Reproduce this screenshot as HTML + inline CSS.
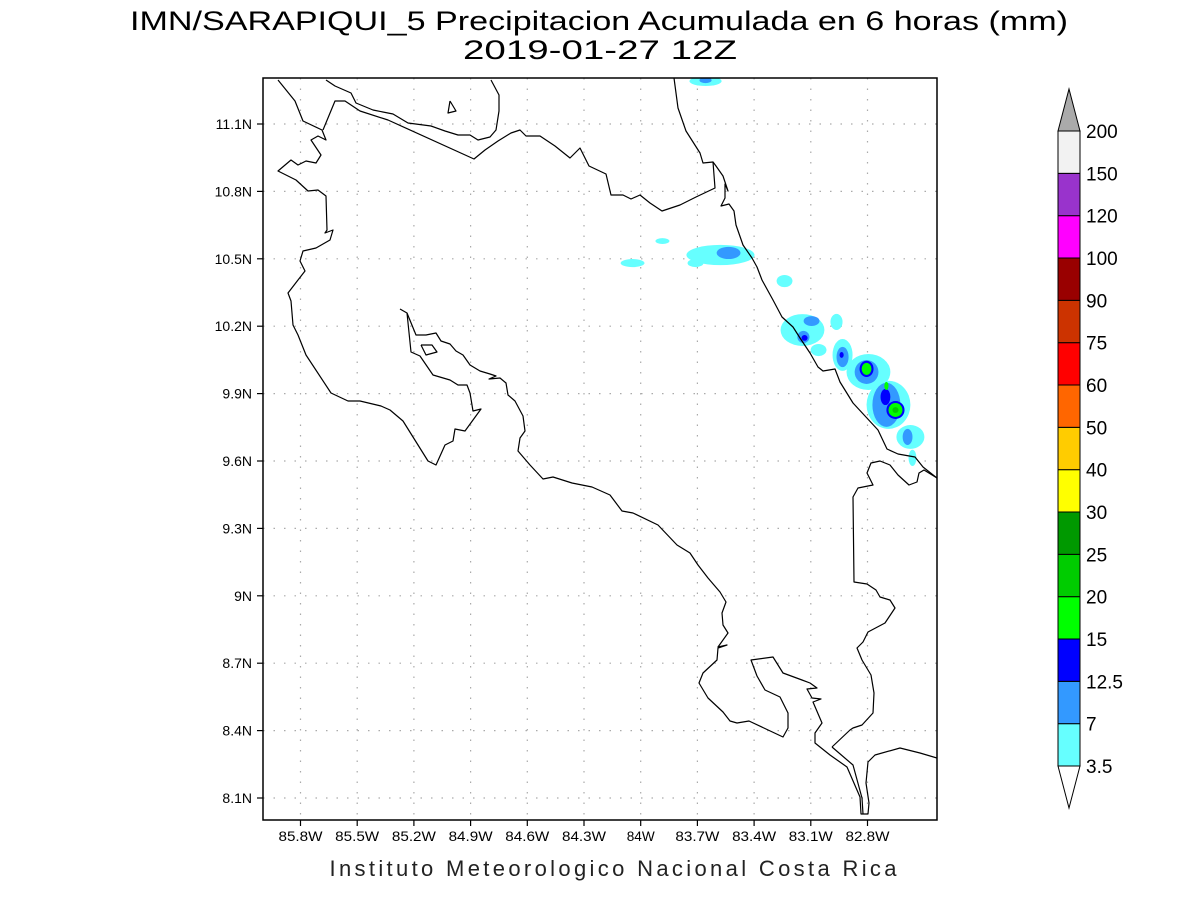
<!DOCTYPE html>
<html><head><meta charset="utf-8"><style>
html,body{margin:0;padding:0;background:#fff}
svg{display:block}
text{font-family:"Liberation Sans",sans-serif}
</style></head><body>
<svg id="chart" width="1200" height="900" viewBox="0 0 1200 900" xmlns="http://www.w3.org/2000/svg">
<text x="599" y="30" font-size="27" text-anchor="middle" textLength="938" lengthAdjust="spacingAndGlyphs">IMN/SARAPIQUI_5 Precipitacion Acumulada en 6 horas (mm)</text>
<text x="600" y="59" font-size="27" text-anchor="middle" textLength="274" lengthAdjust="spacingAndGlyphs">2019-01-27 12Z</text>
<defs><clipPath id="plotclip"><rect x="263" y="78" width="674" height="742"/></clipPath></defs>
<g id="grid"></g>
<g id="precip" clip-path="url(#plotclip)"></g>
<g id="coast" clip-path="url(#plotclip)" fill="none" stroke="#000" stroke-width="1.2" stroke-linejoin="round"></g>
<rect x="263" y="78" width="674" height="742" fill="none" stroke="#000" stroke-width="1.5"/>
<g id="axes"></g>
<g id="cbar"></g>
<text x="613" y="876" font-size="22" text-anchor="middle" textLength="567" lengthAdjust="spacing" fill="#222">Instituto Meteorologico Nacional Costa Rica</text>
</svg>
<script>
const lonTicks = [85.8,85.5,85.2,84.9,84.6,84.3,84.0,83.7,83.4,83.1,82.8];
const latTicks = [11.1,10.8,10.5,10.2,9.9,9.6,9.3,9.0,8.7,8.4,8.1];
const levels = ["3.5","7","12.5","15","20","25","30","40","50","60","75","90","100","120","150","200"];
const levelColors = ["#66ffff","#3399ff","#0000ff","#00ff00","#00cc00","#009900","#ffff00","#ffcc00","#ff6600","#ff0000","#cc3300","#990000","#ff00ff","#9933cc","#f2f2f2"];
// precipitation cells: lonW, lat, rLon, rLat (degrees), level index
const cellLon = [83.657,83.657,83.885,84.043,83.578,83.710,83.535,83.239,83.144,83.059,83.096,83.139,83.133,82.964,82.932,82.932,82.937,82.795,82.689,82.573,82.562,82.805,82.700,82.588,82.805,82.705,82.652,82.805,82.700,82.652,82.652];
const cellLat = [11.291,11.295,10.579,10.481,10.517,10.481,10.526,10.401,10.183,10.094,10.223,10.152,10.148,10.219,10.072,10.063,10.072,9.996,9.850,9.707,9.614,9.996,9.850,9.707,10.010,9.885,9.827,10.010,9.934,9.827,9.827];
const cellRLon = [0.085,0.032,0.037,0.063,0.180,0.042,0.063,0.042,0.116,0.042,0.042,0.032,0.016,0.032,0.053,0.032,0.011,0.116,0.116,0.074,0.021,0.063,0.074,0.026,0.037,0.026,0.048,0.026,0.011,0.037,0.016];
const cellRLat = [0.022,0.013,0.013,0.018,0.045,0.018,0.027,0.027,0.071,0.027,0.022,0.027,0.013,0.036,0.071,0.045,0.013,0.080,0.107,0.053,0.036,0.053,0.098,0.036,0.036,0.036,0.040,0.027,0.018,0.031,0.013];
const cellLevel = [0,1,0,0,0,0,1,0,0,0,1,1,2,0,0,1,2,0,0,0,0,1,1,1,2,2,2,3,3,3,4];

const NS="http://www.w3.org/2000/svg";
function xOf(lonW){return 300.5 + (85.8-lonW)/0.3*56.7;}
function yOf(lat){return 124 + (11.1-lat)/0.3*67.4;}
function mk(tag,attrs,parent){const e=document.createElementNS(NS,tag);for(const k in attrs)e.setAttribute(k,attrs[k]);parent.appendChild(e);return e;}

const grid=document.getElementById('grid'), axes=document.getElementById('axes');
lonTicks.forEach(l=>{
  const x=xOf(l);
  const g=mk('line',{x1:x,y1:78,x2:x,y2:820,stroke:'#aaa','stroke-width':1.2,'stroke-dasharray':'1.5 9'},grid);
  
  
  const t=mk('line',{x1:x,y1:820,x2:x,y2:826,stroke:'#000','stroke-width':1.2},axes);
  
  
  const tx=mk('text',{x:x,y:841,'font-size':14,'text-anchor':'middle',textLength:44,lengthAdjust:'spacingAndGlyphs'},axes);
  tx.textContent=l.toFixed(1).replace(/\.0$/,'')+'W';
  if(l===84.0) tx.setAttribute('textLength',28);
  
  
});
latTicks.forEach(l=>{
  const y=yOf(l);
  const g=mk('line',{x1:263,y1:y,x2:937,y2:y,stroke:'#aaa','stroke-width':1.2,'stroke-dasharray':'1.5 9'},grid);
  
  
  const t=mk('line',{x1:257,y1:y,x2:263,y2:y,stroke:'#000','stroke-width':1.2},axes);
  
  
  const tx=mk('text',{x:252,y:y+5,'font-size':14,'text-anchor':'end'},axes);
  tx.textContent=l.toFixed(1).replace(/\.0$/,'')+'N';
  
  
});

// precipitation: draw by increasing level
const precip=document.getElementById('precip');
for(let lev=0;lev<levelColors.length;lev++){
  cellLon.forEach((lon,i)=>{
    if(cellLevel[i]!==lev)return;
    const e=mk('ellipse',{cx:xOf(lon),cy:yOf(cellLat[i]),rx:cellRLon[i]/0.3*56.7,ry:cellRLat[i]/0.3*67.4,fill:levelColors[lev]},precip);
    
    
  });
}

// coastlines (pixel traces of the basemap)
const coastLines=[
 "278,80 295,101 303,121 322,130 326,140 318,136 311,140 321,155 316,163 306,161 298,165 291,160 278,171 296,180 308,191 318,190 326,196 327,230 325,233 333,230 330,240 316,248 303,251 300,261 305,271 298,280 288,293 291,301 293,325 298,335 306,355 331,393 348,401 360,401 381,406 390,410 403,421 428,461 436,465 445,445 453,441 455,429 465,431 481,409 473,411 470,393 467,385 458,385 450,380 433,375 420,356 411,352 407,313 400,309",
 "407,313 416,335 426,335 436,333 441,341 450,344 456,351 463,355 470,365 480,371 490,374 496,376 489,379 500,378 506,383 508,395 515,401 523,416 525,431 520,438 518,451 530,465 543,479 553,477 572,483 592,487 610,495 622,511 633,513 658,525 677,545 690,553 698,565 708,578 720,592 726,602 722,613 723,625 728,633 718,647 727,645 718,648 717,660 703,673 699,683 708,698 723,712 730,721 737,723 749,721 783,737 788,728 788,713 780,697 765,690 757,676 751,660 773,657 783,673 802,680 810,683 817,688 807,689 812,698 821,699 813,702 822,723 815,733 815,743 830,755 847,767 860,797 861,814 868,814 869,803 866,783 868,762 875,755 900,748 920,753 937,758",
 "832,747 850,730 853,728 862,725 873,713 874,693 871,675 862,660 857,648 863,642 868,632 885,623 895,608 890,600 880,597 876,590 867,584 854,582 853,497 858,488 873,485 867,473 871,463 880,461 890,465 898,475 909,485 917,482 919,473 924,470 937,478",
 "832,747 853,765 862,798 863,814",
 "323,130 335,101 345,101 360,111 388,120 474,159 485,150 498,141 511,133 520,130 526,136 540,136 555,146 570,158 580,148 589,166 606,174 611,195 623,195 631,199 640,195 650,203 662,211 680,205 696,197 715,188 713,162 703,163 700,153 686,131 678,108 674,78",
 "713,162 716,166 723,176 728,191 725,184 725,198 721,206 729,204 734,211 736,225 743,245 752,258 757,267 762,280 773,300 782,317 793,327 800,338 810,353 818,367 823,371 835,369 840,382 853,403 878,430 887,449 898,454 915,457 923,467 937,478",
 "326,80 335,86 351,93 356,103 373,110 393,114 408,123 431,126 445,131 458,135 470,135 478,140 490,137 496,130 499,111 499,95 491,80",
 "450,101 456,111 448,113 450,101",
 "421,345 432,345 437,352 426,355 421,345"
];
const coast=document.getElementById('coast');
coastLines.forEach(p=>{
  const e=mk('polyline',{points:p},coast);
  
  
});

// colorbar
const cbar=document.getElementById('cbar');
const cbX=1058,cbW=22,cbTop=131,cbBot=766,nb=levelColors.length,bh=(cbBot-cbTop)/nb;
levelColors.forEach((c,i)=>{
  const y=cbBot-(i+1)*bh;
  const r=mk('rect',{x:cbX,y:y,width:cbW,height:bh,fill:c,stroke:'#000','stroke-width':1},cbar);
  
  
});
const up=mk('polygon',{points:`${cbX},${cbTop} ${cbX+cbW},${cbTop} ${cbX+cbW/2},89`,fill:'#aaaaaa',stroke:'#000','stroke-width':1},cbar);


const dn=mk('polygon',{points:`${cbX},${cbBot} ${cbX+cbW},${cbBot} ${cbX+cbW/2},808`,fill:'#fff',stroke:'#000','stroke-width':1},cbar);


levels.forEach((s,i)=>{
  const y=cbBot-i*bh;
  const t=mk('text',{x:1086,y:y+7,'font-size':19},cbar);
  t.textContent=s;
  
  
});
</script>
</body></html>
